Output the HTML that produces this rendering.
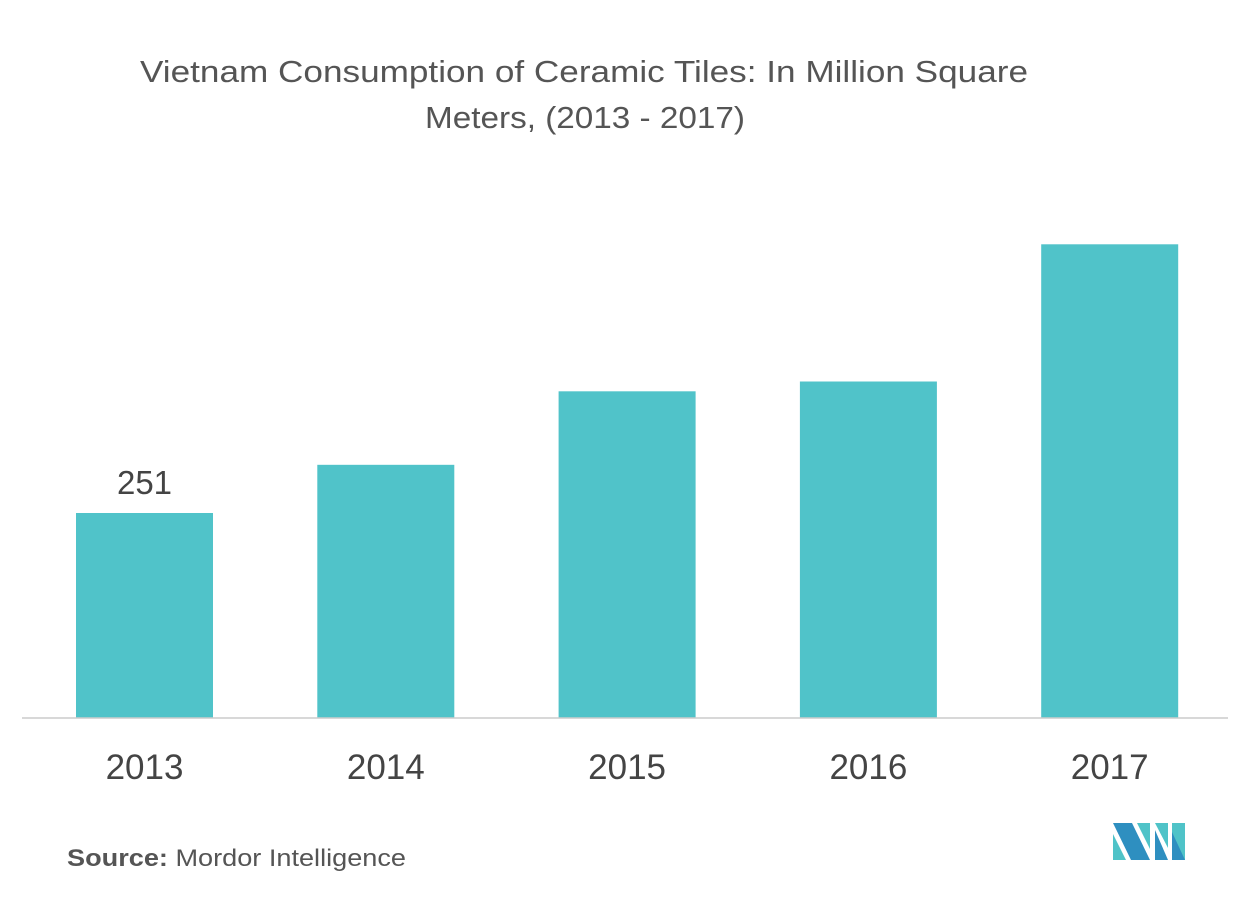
<!DOCTYPE html>
<html><head><meta charset="utf-8"><style>
body{margin:0;width:1253px;height:893px;background:#fff;overflow:hidden;font-family:"Liberation Sans",sans-serif}
</style></head><body>
<svg id="chart" width="1253" height="893">
<text x="140" y="82" font-size="31" fill="#555" textLength="888" lengthAdjust="spacingAndGlyphs">Vietnam Consumption of Ceramic Tiles: In Million Square</text>
<text x="425" y="128" font-size="31" fill="#555" textLength="320" lengthAdjust="spacingAndGlyphs">Meters, (2013 - 2017)</text>
<g id="bars"></g>
<line x1="22" y1="718" x2="1228" y2="718" stroke="#ccc" stroke-width="1.5"/>
<text x="67" y="866" font-size="24" fill="#555" textLength="339" lengthAdjust="spacingAndGlyphs"><tspan font-weight="bold">Source:</tspan> Mordor Intelligence</text>
<g>
<polygon points="1113,823 1132,823 1150,860 1131,860" fill="#2e8fc0"/>
<polygon points="1113,834 1126,860 1113,860" fill="#4fc3c8"/>
<polygon points="1137,823 1150,823 1150,849" fill="#4fc3c8"/>
<polygon points="1155,823 1168,823 1168,848 1155,823" fill="#4fc3c8"/>
<polygon points="1155,830 1168,860 1155,860" fill="#2e8fc0"/>
<polygon points="1172,823 1185,823 1185,860 1172,860" fill="#4fc3c8"/>
<polygon points="1172,832 1185,860 1172,860" fill="#2e8fc0"/>
</g>
</svg>
<script>
const categories=["2013","2014","2015","2016","2017"];
const values=[251,310,400,412,580];
const labels=["251","","","",""];
const base=718, scale=205/251, x0=76, step=241.3, bw=137;
const g=document.getElementById('bars');
const ns="http://www.w3.org/2000/svg";
categories.forEach((c,i)=>{
  const h=values[i]*scale, x=x0+i*step;
  const r=document.createElementNS(ns,'rect');
  r.setAttribute('x',x);r.setAttribute('y',base-h);r.setAttribute('width',bw);r.setAttribute('height',h);r.setAttribute('fill','#50c3c9');
  
  
  g.appendChild(r);
  const t=document.createElementNS(ns,'text');
  t.setAttribute('x',x+bw/2);t.setAttribute('y',779);t.setAttribute('text-anchor','middle');t.setAttribute('font-size','35');t.setAttribute('fill','#444');
  t.textContent=c;
  
  
  g.appendChild(t);
  if(labels[i]){
    const v=document.createElementNS(ns,'text');
    v.setAttribute('x',x+bw/2);v.setAttribute('y',base-h-19);v.setAttribute('text-anchor','middle');v.setAttribute('font-size','33');v.setAttribute('fill','#444');
    v.textContent=labels[i];
    
    
    g.appendChild(v);
  }
});
</script>
</body></html>
